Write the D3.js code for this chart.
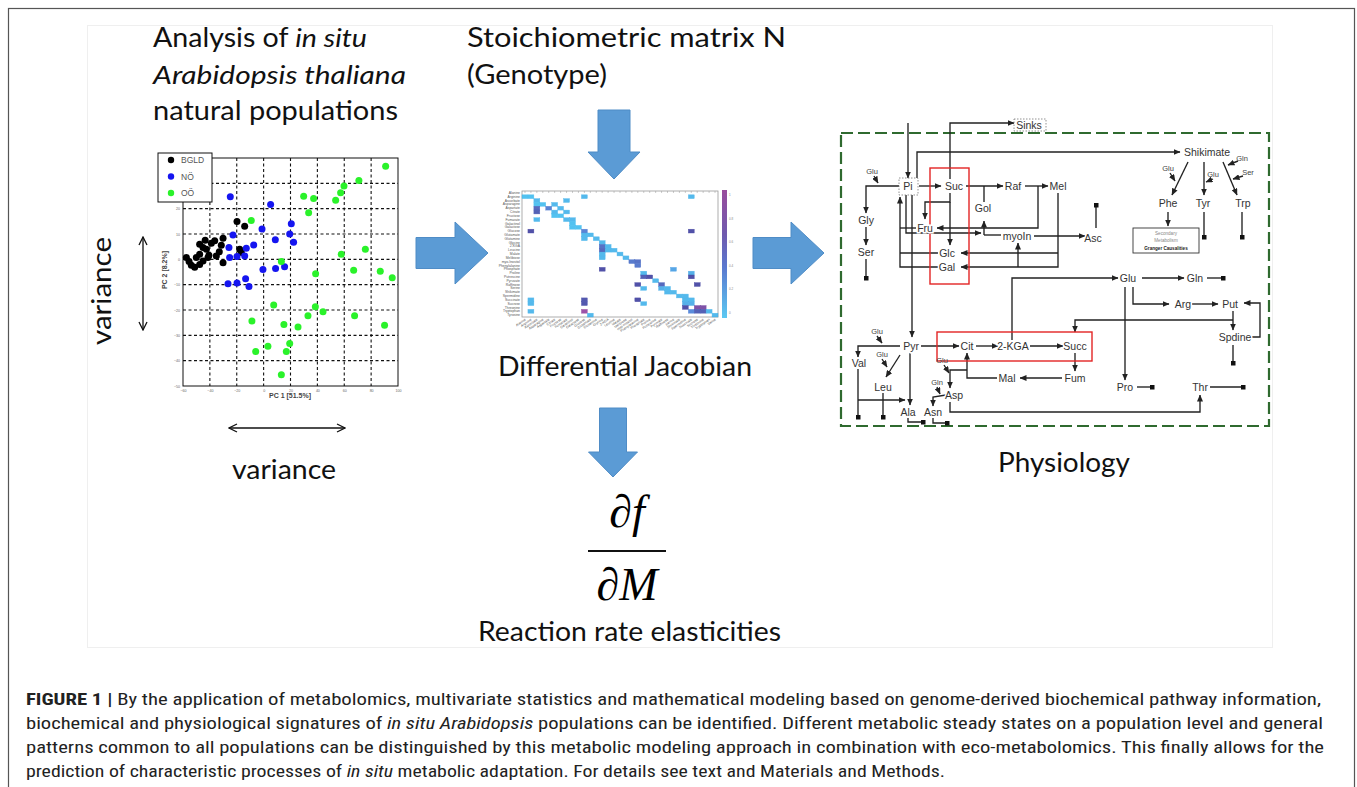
<!DOCTYPE html>
<html><head><meta charset="utf-8">
<script src="https://cdn.jsdelivr.net/npm/d3@7"></script>
<style>body{margin:0;background:#fff}svg{display:block}</style>
</head><body><svg id="fig" width="1357" height="787"></svg>
<script>
// ---------------- DATA ----------------
const pcaXTicks = [-60,-40,-20,0,20,40,60,80,100];
const pcaYTicks = [-50,-40,-30,-20,-10,0,10,20,30,40];
const pcaBGLD = [[-19.8,14.9],[-14.1,13.1],[-30.2,8.3],[-36.4,7.3],[-31.5,5.6],[-38.9,6.3],[-45.1,4.7],[-42.6,4.0],[-40.7,1.6],[-47.6,2.0],[-35.2,1.3],[-30.2,-1.3],[-41.4,0.7],[-50.1,0.7],[-57.5,0.7],[-55.5,-0.9],[-53.8,-2.3],[-51.3,-3.1],[-47.6,-2.0],[-45.1,-0.7],[-17.8,4.0],[-16.6,2.7],[-47.6,6.0],[-43.5,7.5],[-33,3]];
const pcaNO = [[-24.8,24.7],[5.2,21.6],[-22.8,9.6],[-25.8,4.7],[-25.3,0.7],[-19.8,1.1],[-12.9,4.4],[-14.1,1.3],[-7.4,5.7],[-1.2,12.0],[8.7,7.7],[20.6,14.0],[19.4,10.0],[22.3,6.7],[-0.5,-4.0],[8.9,-3.6],[15.6,-2.9],[-26.5,-9.6],[-19.8,-9.3],[-13.4,-7.7],[-10.9,-10.7]];
const pcaOO = [[90.8,36.7],[70.9,31.1],[59.8,28.9],[57.3,26.3],[53.6,23.3],[37.2,24.0],[29.8,24.9],[33.5,18.4],[-9.2,15.3],[13.2,-0.9],[38.7,-5.7],[57.8,2.0],[75.7,4.0],[67.0,-4.3],[86.8,-4.7],[95.7,-7.3],[7.5,-18.0],[38.5,-18.7],[33.0,-22.3],[44.2,-20.7],[67.7,-22.3],[90.0,-26.0],[-8.7,-24.3],[15.1,-25.7],[25.6,-26.7],[3.2,-34.3],[19.4,-33.2],[-5.9,-36.4],[16.9,-36.4],[13.2,-45.6]];
const pcaGroups = ["BGLD","NÖ","OÖ"];

const jacRowNames = ["Alanine","Arginine","Ascorbate","Asparagine","Aspartate","Citrate","Fructose","Fumarate","Galactinol","Galactose","Glucose","Glutamate","Glutamine","Glycine","2-KGA","Leucine","Malate","Melibiose","myo-Inositol","Phenylalanine","Phosphate","Proline","Putrescine","Pyruvate","Raffinose","Serine","Shikimate","Spermidine","Succinate","Sucrose","Threonine","Tryptophan","Tyrosine"];
const jacColNames = ["Alanine","Arginine","Ascorbate","Asparagine","Aspartate","Citrate","Fructose","Fumarate","Galactinol","Galactose","Glucose","Glutamate","Glutamine","Glycine","2-KGA","Leucine","Malate","Melibiose","myo-Inositol","Phenylalanine","Phosphate","Proline","Putrescine","Pyruvate","Raffinose","Serine","Shikimate","Spermidine","Succinate","Sucrose","Threonine","Tryptophan","Valine"];
const jacCells = [
[1,0,0.05],[1,1,0.05],[1,10,0.1],[1,28,0.1],
[2,2,0.1],[2,7,0.1],
[3,2,0.05],[3,3,0.05],[3,5,0.1],
[4,2,0.55],[4,4,0.4],[4,6,0.1],
[5,2,0.6],[5,5,0.1],[5,7,0.1],
[6,5,0.05],[6,6,0.05],
[7,2,0.1],[7,7,0.1],[7,8,0.1],
[8,8,0.05],
[9,8,0.05],[9,9,0.05],
[10,1,0.7],[10,10,0.4],[10,28,0.7],
[11,10,0.1],[11,11,0.1],
[12,10,0.1],[12,12,0.1],
[13,13,0.1],
[14,13,0.5],[14,14,0.1],
[15,13,0.55],[15,14,0.1],[15,15,0.1],
[16,13,0.1],[16,16,0.1],
[17,13,0.1],[17,17,0.1],
[18,18,0.45],[18,19,0.5],
[19,19,0.45],
[20,13,0.7],[20,25,0.2],
[21,20,0.1],[21,28,0.15],
[22,20,0.6],[22,21,0.7],[22,28,0.7],
[23,22,0.1],
[24,19,0.7],[24,23,0.55],[24,29,0.7],
[25,20,0.1],[25,23,0.15],[25,24,0.1],
[26,24,0.1],[26,25,0.1],
[27,26,0.1],[27,27,0.1],
[28,1,0.1],[28,10,0.65],[28,19,0.7],[28,27,0.1],[28,28,0.1],
[29,1,0.1],[29,10,0.65],[29,20,0.1],[29,27,0.15],[29,28,0.15],
[30,27,0.7],[30,29,0.85],[30,30,0.85],
[31,1,0.1],[31,10,0.95],[31,28,0.35],[31,29,0.6],[31,30,0.6],[31,31,0.1],
[32,11,0.1],[32,32,0.1]
];
const jacBarTicks = ["1","0.8","0.6","0.4","0.2","0"];

// network diagram (coordinates in the diagram's own unit grid)
const netNodes = [
["Sinks",189,10],["Pi",68,71],["Suc",114,71],["Raf",173,71],["Mel",218,71],["Gol",143,93],["Fru",85,113],["myoIn",177,121],["Glc",107,138],["Gal",107,152],["Gly",26,105],["Ser",26,137],["Shikimate",367,37],["Phe",328,88],["Tyr",363,88],["Trp",403,88],["Asc",253,123],["Glu",288,163],["Gln",355,163],["Pyr",71,231],["Cit",127,231],["2-KGA",173,231],["Succ",235,231],["Fum",235,263],["Mal",167,263],["Val",19,248],["Leu",43,272],["Ala",68,297],["Asn",93,297],["Asp",114,280],["Arg",343,189],["Put",390,189],["Spdine",395,222],["Pro",285,272],["Thr",360,272]
];
const netCofactors = [["Glu",32,56],["Glu",328,53],["Glu",373,59],["Gln",402,43],["Ser",408,57],["Glu",37,216],["Glu",42,239],["Gln",97,267],["Glu",102,245]];
const netEdges = [
[[[68,8],[68,63]],"arrow"],
[[[110,64],[110,8],[174,8]],"arrow"],
[[[77,63],[77,37],[340,37]],"arrow"],
[[[79,71],[101,71]],"arrow"],
[[[59,71],[26,71],[26,98]],"arrow"],
[[[26,112],[26,130]],"arrow"],
[[[26,144],[26,163]],"dot"],
[[[126,71],[163,71]],"arrow"],
[[[185,71],[208,71]],"arrow"],
[[[144,71],[144,87]],"none"],
[[[144,120],[144,106]],"arrow"],
[[[144,120],[161,120]],"none"],
[[[110,78],[110,87],[85,87],[85,104]],"arrow"],
[[[110,87],[110,130]],"arrow"],
[[[198,71],[198,113],[97,113]],"arrow"],
[[[76,113],[60,113]],"none"],
[[[98,138],[60,138]],"none"],
[[[98,152],[60,152],[60,82]],"arrow"],
[[[66,80],[66,118],[141,118]],"arrow"],
[[[72,80],[72,222]],"arrow"],
[[[194,121],[245,121]],"arrow"],
[[[218,78],[218,152],[121,152]],"arrow"],
[[[218,138],[121,138]],"arrow"],
[[[178,152],[178,128]],"arrow"],
[[[256,113],[256,90]],"dot"],
[[[348,47],[332,80]],"arrow"],
[[[364,47],[364,80]],"arrow"],
[[[383,47],[397,80]],"arrow"],
[[[328,97],[328,111]],"arrow"],
[[[364,97],[364,122]],"dot"],
[[[402,97],[402,122]],"dot"],
[[[172,225],[172,163],[278,163]],"arrow"],
[[[302,163],[344,163]],"arrow"],
[[[367,163],[383,163]],"dot"],
[[[81,231],[119,231]],"arrow"],
[[[136,231],[158,231]],"arrow"],
[[[190,231],[223,231]],"arrow"],
[[[60,231],[18,231],[18,242]],"arrow"],
[[[60,240],[46,262]],"arrow"],
[[[70,238],[70,290]],"arrow"],
[[[18,254],[18,302]],"dot"],
[[[43,278],[43,302]],"dot"],
[[[18,285],[65,285]],"arrow"],
[[[68,303],[68,307],[83,307]],"dot"],
[[[93,303],[93,308],[107,308]],"dot"],
[[[106,280],[93,282],[93,291]],"arrow"],
[[[157,263],[127,263],[127,238]],"arrow"],
[[[127,255],[110,255],[110,273]],"arrow"],
[[[222,263],[180,263]],"arrow"],
[[[110,287],[110,297],[360,297],[360,280]],"arrow"],
[[[235,238],[235,256]],"arrow"],
[[[285,172],[285,265]],"arrow"],
[[[293,172],[293,189],[329,189]],"arrow"],
[[[352,189],[378,189]],"arrow"],
[[[393,196],[393,215]],"arrow"],
[[[393,205],[235,205],[235,217]],"arrow"],
[[[412,222],[420,222],[420,188],[404,188]],"arrow"],
[[[393,230],[393,248]],"dot"],
[[[297,272],[312,272]],"dot"],
[[[370,272],[403,272]],"dot"],
[[[34,61],[38,68]],"arrow"],
[[[330,58],[335,66]],"arrow"],
[[[373,64],[366,67]],"arrow"],
[[[398,46],[388,50]],"arrow"],
[[[403,61],[393,64]],"arrow"],
[[[37,221],[42,228]],"arrow"],
[[[42,244],[47,252]],"arrow"],
[[[97,272],[100,279]],"arrow"],
[[[104,250],[109,258]],"arrow"]
];
const netRedBoxes = [[[90,53],[129,169]],[[97,217],[252,246]]];
const netSecBox = [[293,113],[359,138]];

const captionLines = [
 [["FIGURE 1 | ","b"],["By the application of metabolomics, multivariate statistics and mathematical modeling based on genome-derived biochemical pathway information,","n"]],
 [["biochemical and physiological signatures of ","n"],["in situ Arabidopsis","i"],[" populations can be identified. Different metabolic steady states on a population level and general","n"]],
 [["patterns common to all populations can be distinguished by this metabolic modeling approach in combination with eco-metabolomics. This finally allows for the","n"]],
 [["prediction of characteristic processes of ","n"],["in situ","i"],[" metabolic adaptation. For details see text and Materials and Methods.","n"]]
];
const captionWidths = [1295,1297,1298,919];

// ---------------- DRAW ----------------
const svg = d3.select("#fig");
const defs = svg.append("defs");
defs.append("marker").attr("id","arr").attr("markerUnits","userSpaceOnUse")
  .attr("markerWidth",7).attr("markerHeight",6).attr("refX",6.5).attr("refY",3).attr("orient","auto")
  .append("path").attr("d","M0,0 L7,3 L0,6 Z").attr("fill","#222");
defs.append("marker").attr("id","dot").attr("markerUnits","userSpaceOnUse")
  .attr("markerWidth",5).attr("markerHeight",5).attr("refX",2.5).attr("refY",2.5).attr("orient","auto")
  .append("rect").attr("width",5).attr("height",5).attr("fill","#111");
defs.append("marker").attr("id","vee").attr("markerUnits","userSpaceOnUse")
  .attr("markerWidth",10).attr("markerHeight",10).attr("refX",9).attr("refY",5).attr("orient","auto-start-reverse")
  .append("path").attr("d","M1,1 L9,5 L1,9").attr("fill","none").attr("stroke","#111").attr("stroke-width",1.3);

// frames
svg.append("rect").attr("x",8.5).attr("y",8.5).attr("width",1346).attr("height",790).attr("fill","none").attr("stroke","#555").attr("stroke-width",1.2);
svg.append("rect").attr("x",87.5).attr("y",25.5).attr("width",1185).attr("height",622).attr("fill","#fff").attr("stroke","#efefef");

// titles
const titleFont = "Lato, Carlito, 'Open Sans', sans-serif";
function richText(g, x, y, parts, size, width, family, color){
  const t = g.append("text").attr("x",x).attr("y",y).attr("font-family",family).attr("font-size",size).attr("fill",color||"#111");
  parts.forEach(p=>{
    const ts = t.append("tspan").text(p[0]);
    if(p[1]==="i") ts.attr("font-style","italic");
    if(p[1]==="b") ts.attr("font-weight","bold");
  });
  if(width) t.attr("textLength",width).attr("lengthAdjust","spacingAndGlyphs");
  return t;
}
richText(svg,153,47,[["Analysis of ","n"],["in situ","i"]],26,214,titleFont);
richText(svg,153,84,[["Arabidopsis thaliana","i"]],26,253,titleFont);
richText(svg,153,120,[["natural populations","n"]],26,245,titleFont);
richText(svg,467,47,[["Stoichiometric matrix N","n"]],26,319,titleFont);
richText(svg,467,84,[["(Genotype)","n"]],26,140,titleFont);
richText(svg,498,376,[["Differential Jacobian","n"]],26,254,titleFont);
richText(svg,478,641,[["Reaction rate elasticities","n"]],26,303,titleFont);
richText(svg,998,472,[["Physiology","n"]],26,132,titleFont);
richText(svg,232,479,[["variance","n"]],26,104,titleFont);
richText(svg,0,0,[["variance","n"]],26,108,titleFont).attr("transform","translate(111,345) rotate(-90)");

// variance arrows
svg.append("line").attr("x1",143).attr("y1",237).attr("x2",143).attr("y2",330).attr("stroke","#111").attr("stroke-width",1.3)
  .attr("marker-start","url(#vee)").attr("marker-end","url(#vee)");
svg.append("line").attr("x1",229).attr("y1",428).attr("x2",345).attr("y2",428).attr("stroke","#111").attr("stroke-width",1.3)
  .attr("marker-start","url(#vee)").attr("marker-end","url(#vee)");

// big blue arrows
function rightArrow(x0,x1,yc,sh,hh,hl){
  const xh=x1-hl;
  return `M${x0},${yc-sh/2} L${xh},${yc-sh/2} L${xh},${yc-hh/2} L${x1},${yc} L${xh},${yc+hh/2} L${xh},${yc+sh/2} L${x0},${yc+sh/2} Z`;
}
function downArrow(y0,y1,xc,sw,hw,hl){
  const yh=y1-hl;
  return `M${xc-sw/2},${y0} L${xc+sw/2},${y0} L${xc+sw/2},${yh} L${xc+hw/2},${yh} L${xc},${y1} L${xc-hw/2},${yh} L${xc-sw/2},${yh} Z`;
}
[rightArrow(416,488,253,31,62,33), rightArrow(753,824,253,31,62,33), downArrow(110,179,614,32,52,27), downArrow(408,477,613,27,49,25)]
 .forEach(d=>svg.append("path").attr("d",d).attr("fill","#5b9bd5").attr("stroke","#4f8cc6").attr("stroke-width",1));

// math
const mathFont = "'Liberation Serif','DejaVu Serif',serif";
const fr = svg.append("g");
fr.append("text").attr("x",627).attr("y",527).attr("text-anchor","middle").attr("font-family",mathFont).attr("font-size",46)
  .html('∂<tspan font-style="italic">f</tspan>');
fr.append("line").attr("x1",588).attr("x2",666).attr("y1",551).attr("y2",551).attr("stroke","#111").attr("stroke-width",2.2);
fr.append("text").attr("x",627).attr("y",600).attr("text-anchor","middle").attr("font-family",mathFont).attr("font-size",46)
  .html('∂<tspan font-style="italic">M</tspan>');

// ---------- PCA scatter ----------
const px = d3.scaleLinear().domain([-60,100]).range([183,398]);
const py = d3.scaleLinear().domain([-50,40]).range([386,158]);
const pg = svg.append("g");
pg.append("rect").attr("x",px(-60)).attr("y",py(40)).attr("width",px(100)-px(-60)).attr("height",py(-50)-py(40)).attr("fill","#fff").attr("stroke","#111").attr("stroke-width",1);
pg.selectAll(".gx").data(pcaXTicks.slice(1,-1)).join("line").attr("x1",d=>px(d)).attr("x2",d=>px(d)).attr("y1",py(40)).attr("y2",py(-50))
  .attr("stroke","#111").attr("stroke-width",1.1).attr("stroke-dasharray","3,2.5");
pg.selectAll(".gy").data(pcaYTicks.slice(1,-1)).join("line").attr("y1",d=>py(d)).attr("y2",d=>py(d)).attr("x1",px(-60)).attr("x2",px(100))
  .attr("stroke","#111").attr("stroke-width",1.1).attr("stroke-dasharray","3,2.5");
pg.append("g").attr("transform",`translate(0,${py(-50)})`).call(d3.axisBottom(px).tickValues(pcaXTicks).tickSize(0).tickPadding(3))
  .call(g=>{g.select(".domain").remove(); g.selectAll("text").attr("font-size",3.6).attr("fill","#666");});
pg.append("g").attr("transform",`translate(${px(-60)},0)`).call(d3.axisLeft(py).tickValues(pcaYTicks).tickSize(0).tickPadding(3))
  .call(g=>{g.select(".domain").remove(); g.selectAll("text").attr("font-size",3.6).attr("fill","#666");});
pg.append("text").attr("x",290).attr("y",398).attr("text-anchor","middle").attr("font-family","Arial, 'Liberation Sans', sans-serif").attr("font-size",7).attr("font-weight","bold").attr("fill","#444").text("PC 1 [51.5%]");
pg.append("text").attr("transform","translate(167,270) rotate(-90)").attr("text-anchor","middle").attr("font-family","Arial, 'Liberation Sans', sans-serif").attr("font-size",7).attr("font-weight","bold").attr("fill","#444").text("PC 2 [8.2%]");
const pcaColors = ["#000000","#1515f0","#2af22a"];
[pcaBGLD,pcaNO,pcaOO].forEach((arr,i)=>{
  pg.selectAll(".p"+i).data(arr).join("circle").attr("cx",d=>px(d[0])).attr("cy",d=>py(d[1])).attr("r",3.5).attr("fill",pcaColors[i]);
});
// legend
const lg = pg.append("g");
lg.append("rect").attr("x",158).attr("y",153).attr("width",54).attr("height",49).attr("fill","#fff").attr("stroke","#111").attr("stroke-width",1);
pcaGroups.forEach((name,i)=>{
  lg.append("circle").attr("cx",171).attr("cy",160+i*16.5).attr("r",3.2).attr("fill",pcaColors[i]);
  lg.append("text").attr("x",181).attr("y",163+i*16.5).attr("font-family","Arial, 'Liberation Sans', sans-serif").attr("font-size",8.5).attr("fill","#555").text(name);
});

// ---------- Jacobian heatmap ----------
const jx = d3.scaleBand().domain(d3.range(jacColNames.length)).range([522,718]);
const jy = d3.scaleBand().domain(d3.range(jacRowNames.length)).range([191,317]);
const jc = d3.scaleLinear().domain([0,0.35,0.7,1]).range(["#3fc6f3","#4a7fd8","#3f3f9f","#a4409f"]);
const jg = svg.append("g");
jg.append("rect").attr("x",522).attr("y",191).attr("width",196).attr("height",126).attr("fill","#fff").attr("stroke","#999").attr("stroke-width",0.8);
jg.selectAll(".cell").data(jacCells).join("rect").attr("x",d=>jx(d[1])).attr("y",d=>jy(d[0])).attr("width",jx.bandwidth()).attr("height",jy.bandwidth())
  .attr("fill",d=>jc(d[2])).attr("stroke",d=>jc(d[2])).attr("stroke-width",0.4).attr("opacity",0.9);
jg.selectAll(".rl").data(jacRowNames).join("text").attr("x",520).attr("y",(d,i)=>jy(i)+jy.bandwidth()/2+1.1).attr("text-anchor","end")
  .attr("font-family","Arial, sans-serif").attr("font-size",3.4).attr("fill","#555").text(d=>d);
jg.selectAll(".cl").data(jacColNames).join("text").attr("text-anchor","end")
  .attr("transform",(d,i)=>`translate(${jx(i)+jx.bandwidth()/2+1},${320}) rotate(-35)`)
  .attr("font-family","Arial, sans-serif").attr("font-size",3.4).attr("fill","#555").text(d=>d);
jg.selectAll(".tk").data(jacColNames).join("line").attr("x1",(d,i)=>jx(i)+jx.bandwidth()/2).attr("x2",(d,i)=>jx(i)+jx.bandwidth()/2)
  .attr("y1",191).attr("y2",193).attr("stroke","#999").attr("stroke-width",0.5);
const grad = defs.append("linearGradient").attr("id","cbar").attr("x1",0).attr("x2",0).attr("y1",0).attr("y2",1);
[[0,"#9a4c9c"],[0.35,"#6f5aae"],[0.6,"#5b78cf"],[1,"#5cc9f2"]].forEach(s=>grad.append("stop").attr("offset",s[0]).attr("stop-color",s[1]));
jg.append("rect").attr("x",722).attr("y",190).attr("width",5).attr("height",128).attr("fill","url(#cbar)");
const cbY = d3.scalePoint().domain(jacBarTicks).range([195,313]);
jg.selectAll(".cbt").data(jacBarTicks).join("text").attr("x",729).attr("y",d=>cbY(d)+1).attr("font-family","Arial, sans-serif").attr("font-size",3).attr("fill","#888").text(d=>d);

// ---------- Network ----------
const nx = d3.scaleLinear().domain([0,430]).range([840,1270]);
const ny = d3.scaleLinear().domain([0,300]).range([115,415]);
const ng = svg.append("g");
ng.append("rect").attr("x",841).attr("y",133).attr("width",428).attr("height",293).attr("fill","none")
  .attr("stroke","#2f6a2f").attr("stroke-width",2.2).attr("stroke-dasharray","12,5");
const lineGen = d3.line().x(d=>nx(d[0])).y(d=>ny(d[1]));
ng.selectAll(".edge").data(netEdges).join("path").attr("d",d=>lineGen(d[0])).attr("fill","none")
  .attr("stroke","#222").attr("stroke-width",1.35)
  .attr("marker-end",d=>d[1]==="arrow"?"url(#arr)":(d[1]==="dot"?"url(#dot)":null));
netRedBoxes.forEach(b=>ng.append("rect").attr("x",nx(b[0][0])).attr("y",ny(b[0][1])).attr("width",nx(b[1][0])-nx(b[0][0])).attr("height",ny(b[1][1])-ny(b[0][1]))
  .attr("fill","none").attr("stroke","#e32424").attr("stroke-width",1.4));
const netFont = "Arial, 'Liberation Sans', sans-serif";
const nodeG = ng.selectAll(".node").data(netNodes).join("g").attr("transform",d=>`translate(${nx(d[1])},${ny(d[2])})`);
nodeG.append("text").attr("text-anchor","middle").attr("dy","0.36em").attr("font-family",netFont).attr("font-size",10.5).attr("fill","#333")
  .attr("stroke","#fff").attr("stroke-width",3).attr("paint-order","stroke").text(d=>d[0]);
ng.selectAll(".cof").data(netCofactors).join("text").attr("x",d=>nx(d[1])).attr("y",d=>ny(d[2])).attr("text-anchor","middle").attr("dy","0.36em")
  .attr("font-family",netFont).attr("font-size",7.5).attr("fill","#444").text(d=>d[0]);
[["Sinks",[174,4],[206,16]],["Pi",[59,63],[78,80]]].forEach(b=>ng.append("rect").attr("x",nx(b[1][0])).attr("y",ny(b[1][1]))
  .attr("width",nx(b[2][0])-nx(b[1][0])).attr("height",ny(b[2][1])-ny(b[1][1])).attr("fill","none").attr("stroke","#777").attr("stroke-width",0.8).attr("stroke-dasharray","1.5,1.5"));
ng.append("rect").attr("x",nx(netSecBox[0][0])).attr("y",ny(netSecBox[0][1])).attr("width",nx(netSecBox[1][0])-nx(netSecBox[0][0])).attr("height",ny(netSecBox[1][1])-ny(netSecBox[0][1]))
  .attr("fill","#fff").attr("stroke","#333").attr("stroke-width",0.9);
[["Secondary",118,"normal","#888"],["Metabolism",125,"normal","#888"],["Granger Causalities",133,"bold","#222"]].forEach(t=>
  ng.append("text").attr("x",nx(326)).attr("y",ny(t[1])+1.5).attr("text-anchor","middle").attr("font-family",netFont).attr("font-size",4.6).attr("font-weight",t[2]).attr("fill",t[3]).text(t[0]));

// ---------- Caption ----------
const capFont = "'Liberation Sans Narrow', 'Roboto Condensed', Roboto, Arial, sans-serif";
captionLines.forEach((parts,i)=>richText(svg,26,705+i*24,parts,16.5,captionWidths[i],capFont,"#222"));
</script></body></html>
